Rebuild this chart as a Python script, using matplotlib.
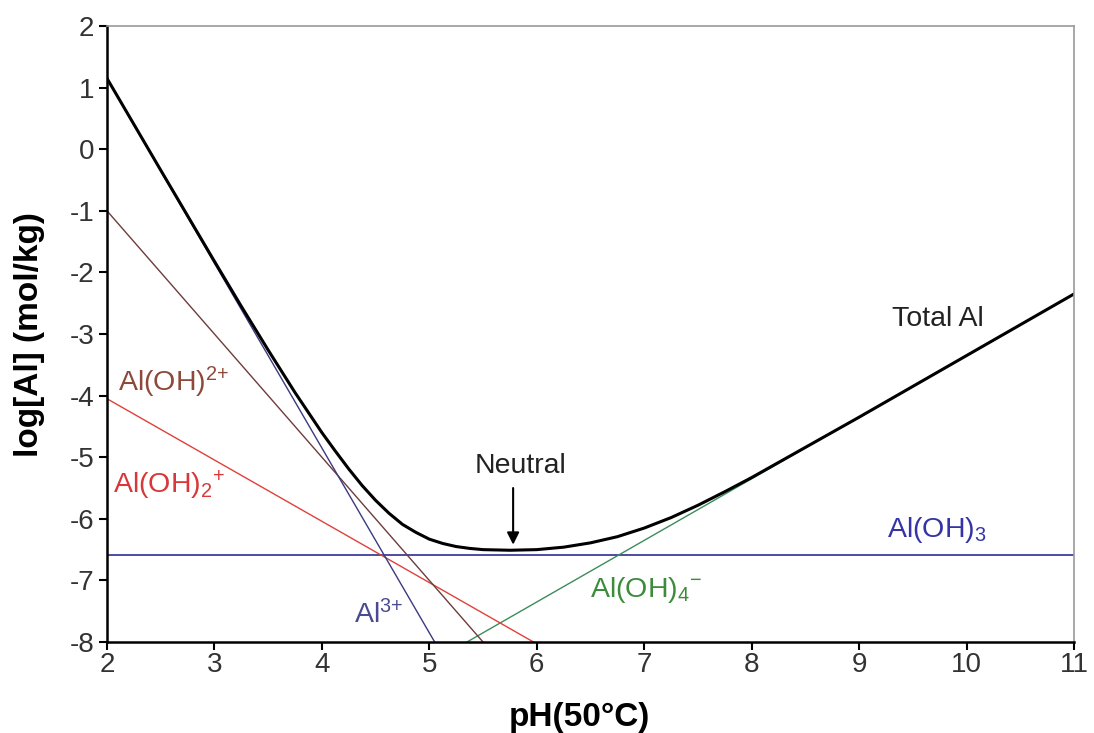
"""Aluminium speciation vs pH at 50 C."""
import matplotlib
matplotlib.use('Agg')
import matplotlib.pyplot as plt

plt.rcParams['font.family'] = ['Liberation Sans', 'DejaVu Sans']
plt.rcParams['mathtext.fontset'] = 'custom'
plt.rcParams['mathtext.rm'] = 'Liberation Sans'
plt.rcParams['mathtext.it'] = 'Liberation Sans'
plt.rcParams['axes.unicode_minus'] = False

# species lines: (pH, log[Al]) end points
al3_ph = [2.0, 5.05]
al3_log = [1.15, -8.0]
aloh_ph = [2.0, 5.5]
aloh_log = [-1.0, -8.0]
aloh2_ph = [2.0, 5.97]
aloh2_log = [-4.05, -8.0]
aloh3_ph = [2.0, 11.0]
aloh3_log = [-6.58, -6.58]
aloh4_ph = [5.35, 11.0]
aloh4_log = [-8.0, -2.35]

# total Al curve
total_ph = [2.0, 2.5, 3.0, 3.25, 3.5, 3.75, 4.0, 4.125, 4.25, 4.375, 4.5,
            4.625, 4.75, 4.875, 5.0, 5.125, 5.25, 5.375, 5.5, 5.75, 6.0,
            6.25, 6.5, 6.75, 7.0, 7.25, 7.5, 7.75, 8.0, 8.5, 9.0, 10.0, 11.0]
total_log = [1.15, -0.34, -1.82, -2.55, -3.26, -3.95, -4.60, -4.90, -5.19,
             -5.46, -5.70, -5.91, -6.09, -6.22, -6.33, -6.40, -6.45, -6.48,
             -6.50, -6.51, -6.50, -6.46, -6.39, -6.29, -6.15, -5.98, -5.78,
             -5.56, -5.33, -4.84, -4.35, -3.35, -2.35]

fig = plt.figure(figsize=(10.94, 7.33), dpi=100)
ax = fig.add_axes([0.0978, 0.1241, 0.8839, 0.8404])

ax.plot(aloh3_ph, aloh3_log, color='#2E2E96', linewidth=1.2)
ax.plot(aloh4_ph, aloh4_log, color='#3C8C5A', linewidth=1.0)
ax.plot(aloh2_ph, aloh2_log, color='#E0403A', linewidth=1.0)
ax.plot(aloh_ph, aloh_log, color='#6E3C3C', linewidth=1.0)
ax.plot(al3_ph, al3_log, color='#3A3A80', linewidth=1.0)
ax.plot(total_ph, total_log, color='black', linewidth=2.2,
        solid_joinstyle='round')

fs = 20.5
ax.text(2.1, -3.78, r'Al(OH)$^{2{+}}$', color='#8B4A3A', fontsize=fs, va='center')
ax.text(2.06, -5.45, r'Al(OH)$_2$$^{{+}}$', color='#D8383A', fontsize=fs, va='center')
ax.text(4.3, -7.55, r'Al$^{3{+}}$', color='#4A4A8E', fontsize=fs, va='center')
ax.text(6.5, -7.15, r'Al(OH)$_4$$^{{-}}$', color='#3C8C3C', fontsize=fs, va='center')
ax.text(9.26, -6.18, r'Al(OH)$_3$', color='#3434A8', fontsize=fs, va='center')
ax.text(9.73, -2.76, 'Total Al', color='#222222', fontsize=fs, ha='center', va='center')
ax.text(5.85, -5.15, 'Neutral', color='#222222', fontsize=fs, ha='center', va='center')
ax.annotate('', xy=(5.78, -6.42), xytext=(5.78, -5.5),
            arrowprops=dict(arrowstyle='-|>', color='black', lw=1.5,
                            mutation_scale=18, shrinkA=0, shrinkB=0))

ax.set_xlim(2, 11)
ax.set_ylim(-8, 2)
ax.set_xticks(range(2, 12))
ax.set_yticks(range(-8, 3))
ax.tick_params(direction='out', length=6, width=1.5, labelsize=20,
               colors='black', labelcolor='#333333', pad=3)
ax.tick_params(axis='x', pad=1)

for side in ['left', 'bottom']:
    ax.spines[side].set_color('black')
    ax.spines[side].set_linewidth(1.8)
for side in ['top', 'right']:
    ax.spines[side].set_color('#999999')
    ax.spines[side].set_linewidth(1.2)

fig.text(0.530, 0.021, 'pH(50°C)', fontsize=24, fontweight='bold',
         ha='center', va='center')
fig.text(0.027, 0.543, 'log[Al] (mol/kg)', fontsize=24, fontweight='bold',
         ha='center', va='center', rotation=90)

fig.savefig('out.png', dpi=100)
